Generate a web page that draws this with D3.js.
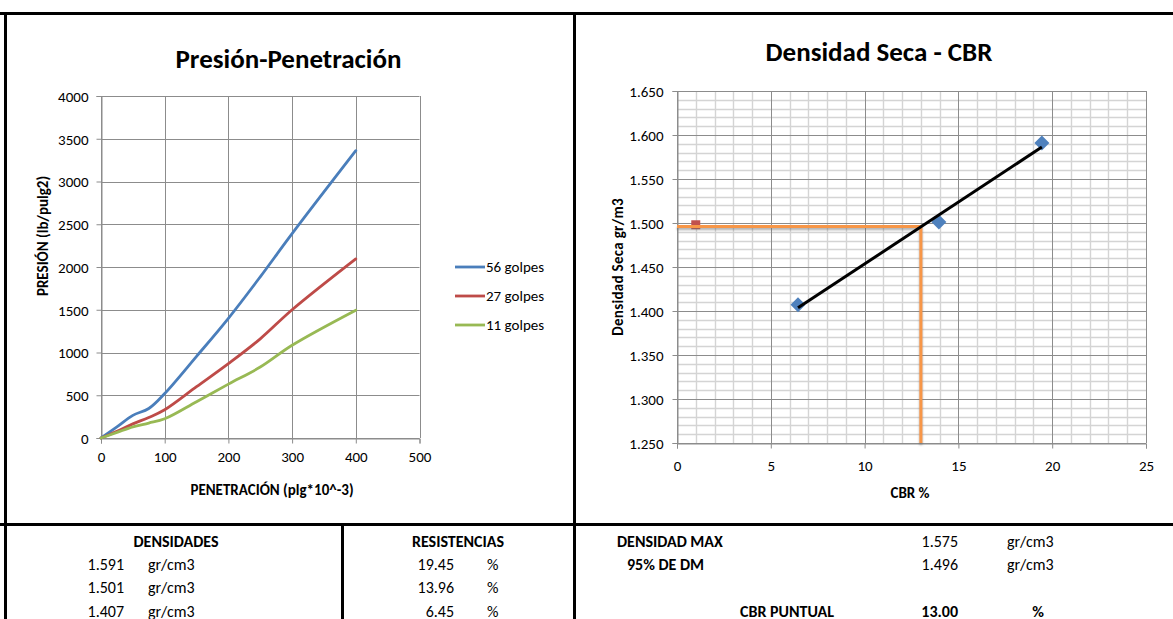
<!DOCTYPE html>
<html>
<head>
<meta charset="utf-8">
<script src="https://cdn.jsdelivr.net/npm/d3@7"></script>
<style>
  html, body { margin: 0; padding: 0; background: #fff; }
  svg { display: block; }
  text { font-family: Carlito, Lato, "Open Sans", sans-serif; fill: #000; }
</style>
</head>
<body>
<svg id="hoja" width="1173" height="619"></svg>
<script>
// ---- Ensayo CBR: curvas presión-penetración ----
const penetracion = [0, 25, 50, 75, 100, 150, 200, 250, 300, 400];
const golpes56 = [0, 130, 265, 345, 520, 955, 1400, 1885, 2390, 3360];
const golpes27 = [0, 80, 165, 240, 330, 600, 870, 1160, 1500, 2095];
const golpes11 = [0, 65, 130, 175, 225, 425, 630, 830, 1085, 1495];
const nombresSeries = ["56 golpes", "27 golpes", "11 golpes"];
const coloresSeries = ["#4A7EBB", "#BE4B48", "#98B954"];
const ticksPresion = [0, 500, 1000, 1500, 2000, 2500, 3000, 3500, 4000];
const ticksPenetracion = [0, 100, 200, 300, 400, 500];

// ---- Densidad seca vs CBR ----
const cbrValores = [19.45, 13.96, 6.45];
const densidades = [1.591, 1.501, 1.407];
const densidadMax = 1.575;
const densidad95 = 1.496;
const cbrPuntual = 13.00;
const puntoReferencia = [1, 1.498];
const ticksCBR = [0, 5, 10, 15, 20, 25];
const ticksDensidad = [1.25, 1.30, 1.35, 1.40, 1.45, 1.50, 1.55, 1.60, 1.65];

const svg = d3.select("#hoja");
const FUENTE = "Carlito, Lato, sans-serif";

// ---------- marco de la hoja ----------
const marco = svg.append("g").attr("stroke", "#000").attr("stroke-width", 3);
marco.append("line").attr("x1", 0).attr("x2", 1173).attr("y1", 13.5).attr("y2", 13.5);
marco.append("line").attr("x1", 5.5).attr("x2", 5.5).attr("y1", 12).attr("y2", 619);
marco.append("line").attr("x1", 574.5).attr("x2", 574.5).attr("y1", 12).attr("y2", 619);
marco.append("line").attr("x1", 0).attr("x2", 1173).attr("y1", 524.5).attr("y2", 524.5);
marco.append("line").attr("x1", 342.5).attr("x2", 342.5).attr("y1", 524).attr("y2", 619);

// ---------- gráfico izquierdo: Presión-Penetración ----------
const xL = d3.scaleLinear().domain([0, 500]).range([101, 419.5]);
const yL = d3.scaleLinear().domain([0, 4000]).range([438, 96]);
const gL = svg.append("g");

gL.append("text").attr("x", 288.5).attr("y", 68).attr("text-anchor", "middle")
  .attr("font-size", 27).attr("font-weight", "bold").text("Presión-Penetración");

// cuadrícula
gL.append("g").selectAll("line").data(ticksPresion).join("line")
  .attr("x1", xL(0)).attr("x2", xL(500))
  .attr("y1", d => Math.round(yL(d)) + 0.5).attr("y2", d => Math.round(yL(d)) + 0.5)
  .attr("stroke", "#8c8c8c").attr("stroke-width", 1);
gL.append("g").selectAll("line").data(ticksPenetracion).join("line")
  .attr("x1", d => Math.round(xL(d)) + 0.5).attr("x2", d => Math.round(xL(d)) + 0.5)
  .attr("y1", yL(4000)).attr("y2", yL(0))
  .attr("stroke", "#8c8c8c").attr("stroke-width", 1);

// ejes
const ejeYL = d3.axisLeft(yL).tickValues(ticksPresion).tickSize(5).tickPadding(8).tickFormat(d3.format("d"));
const ejeXL = d3.axisBottom(xL).tickValues(ticksPenetracion).tickSize(5).tickPadding(8).tickFormat(d3.format("d"));
const axYL = gL.append("g").attr("transform", `translate(${Math.round(xL(0)) + 0.5},0)`).call(ejeYL);
const axXL = gL.append("g").attr("transform", `translate(0,${Math.round(yL(0)) + 0.5})`).call(ejeXL);
[axYL, axXL].forEach(a => {
  a.select(".domain").attr("stroke", "#8c8c8c");
  a.selectAll(".tick line").attr("stroke", "#8c8c8c");
  a.selectAll("text").attr("font-size", 15).attr("font-family", FUENTE).attr("fill", "#000");
});
axYL.selectAll(".tick text").attr("dy", "0.35em");

gL.append("text").attr("transform", "translate(48,236) rotate(-90)").attr("text-anchor", "middle")
  .attr("font-size", 15).attr("font-weight", "bold").text("PRESIÓN (lb/pulg2)");
gL.append("text").attr("x", 272).attr("y", 495).attr("text-anchor", "middle")
  .attr("font-size", 15).attr("font-weight", "bold").text("PENETRACIÓN (plg*10^-3)");

const series = [golpes56, golpes27, golpes11];
const linea = d3.line().x(d => xL(d[0])).y(d => yL(d[1])).curve(d3.curveCatmullRom.alpha(0.5));
series.forEach((vals, i) => {
  gL.append("path").datum(penetracion.map((p, k) => [p, vals[k]]))
    .attr("d", linea).attr("fill", "none").attr("stroke", coloresSeries[i])
    .attr("stroke-width", 2.8).attr("stroke-linejoin", "round").attr("stroke-linecap", "round");
});

// leyenda
const ley = gL.append("g").selectAll("g").data(nombresSeries).join("g")
  .attr("transform", (d, i) => `translate(455,${267 + i * 29})`);
ley.append("line").attr("x1", 0).attr("x2", 30).attr("y1", 0).attr("y2", 0)
  .attr("stroke", (d, i) => coloresSeries[i]).attr("stroke-width", 2.8);
ley.append("text").attr("x", 31).attr("y", 5).attr("font-size", 15).text(d => d);

// ---------- gráfico derecho: Densidad Seca - CBR ----------
const xR = d3.scaleLinear().domain([0, 25]).range([677, 1146]);
const yR = d3.scaleLinear().domain([1.25, 1.65]).range([443, 91]);
const gR = svg.append("g");

gR.append("text").attr("x", 879).attr("y", 61).attr("text-anchor", "middle")
  .attr("font-size", 27).attr("font-weight", "bold").text("Densidad Seca - CBR");

// cuadrícula secundaria
const menoresX = d3.range(0, 26, 1).filter(v => v % 5 !== 0);
const menoresY = d3.range(0, 41).map(k => 1.25 + k * 0.01).filter((v, k) => k % 5 !== 0);
gR.append("g").selectAll("line").data(menoresX).join("line")
  .attr("x1", d => Math.round(xR(d)) + 0.5).attr("x2", d => Math.round(xR(d)) + 0.5)
  .attr("y1", yR(1.65)).attr("y2", yR(1.25)).attr("stroke", "#d4d4d4").attr("stroke-width", 1.4);
gR.append("g").selectAll("line").data(menoresY).join("line")
  .attr("x1", xR(0)).attr("x2", xR(25))
  .attr("y1", d => Math.round(yR(d)) + 0.5).attr("y2", d => Math.round(yR(d)) + 0.5)
  .attr("stroke", "#d4d4d4").attr("stroke-width", 1.4);
// cuadrícula principal
gR.append("g").selectAll("line").data(ticksCBR).join("line")
  .attr("x1", d => Math.round(xR(d)) + 0.5).attr("x2", d => Math.round(xR(d)) + 0.5)
  .attr("y1", yR(1.65)).attr("y2", yR(1.25)).attr("stroke", "#8c8c8c").attr("stroke-width", 1);
gR.append("g").selectAll("line").data(ticksDensidad).join("line")
  .attr("x1", xR(0)).attr("x2", xR(25))
  .attr("y1", d => Math.round(yR(d)) + 0.5).attr("y2", d => Math.round(yR(d)) + 0.5)
  .attr("stroke", "#8c8c8c").attr("stroke-width", 1);

const ejeYR = d3.axisLeft(yR).tickValues(ticksDensidad).tickSize(5).tickPadding(9).tickFormat(d3.format(".3f"));
const ejeXR = d3.axisBottom(xR).tickValues(ticksCBR).tickSize(5).tickPadding(12).tickFormat(d3.format("d"));
const axYR = gR.append("g").attr("transform", `translate(${Math.round(xR(0)) + 0.5},0)`).call(ejeYR);
const axXR = gR.append("g").attr("transform", `translate(0,${Math.round(yR(1.25)) + 0.5})`).call(ejeXR);
[axYR, axXR].forEach(a => {
  a.select(".domain").attr("stroke", "#8c8c8c");
  a.selectAll(".tick line").attr("stroke", "#8c8c8c");
  a.selectAll("text").attr("font-size", 15).attr("font-family", FUENTE).attr("fill", "#000");
});
axYR.selectAll(".tick text").attr("dy", "0.35em");

gR.append("text").attr("transform", "translate(623,267) rotate(-90)").attr("text-anchor", "middle")
  .attr("font-size", 15).attr("font-weight", "bold").attr("letter-spacing", 0.3).text("Densidad Seca gr/m3");
gR.append("text").attr("x", 910).attr("y", 498).attr("text-anchor", "middle")
  .attr("font-size", 15).attr("font-weight", "bold").text("CBR %");

// línea de tendencia (mínimos cuadrados)
const mx = d3.mean(cbrValores), my = d3.mean(densidades);
const pendiente = d3.sum(cbrValores, (x, i) => (x - mx) * (densidades[i] - my)) /
                  d3.sum(cbrValores, x => (x - mx) * (x - mx));
const ordenada = my - pendiente * mx;
const xMin = d3.min(cbrValores), xMax = d3.max(cbrValores);

// sombra suave de la guía naranja
const defs = svg.append("defs");
const f = defs.append("filter").attr("id", "sombra").attr("x", "-5%").attr("y", "-50%").attr("width", "110%").attr("height", "200%");
f.append("feDropShadow").attr("dx", 0).attr("dy", 2).attr("stdDeviation", 1)
  .attr("flood-color", "#666").attr("flood-opacity", 0.55);

// marcadores de datos (debajo de la tendencia)
const diamante = (cx, cy, r) => `M${cx},${cy - r}L${cx + r},${cy}L${cx},${cy + r}L${cx - r},${cy}Z`;
gR.append("g").selectAll("path").data(cbrValores.map((c, i) => [c, densidades[i]])).join("path")
  .attr("d", d => diamante(xR(d[0]), yR(d[1]), 7.5)).attr("fill", "#4F81BD");

gR.append("rect")
  .attr("x", xR(puntoReferencia[0]) - 4.5).attr("y", yR(puntoReferencia[1]) - 4.5)
  .attr("width", 9).attr("height", 9).attr("fill", "#C0504D");

gR.append("path")
  .datum([[0, densidad95], [cbrPuntual, densidad95], [cbrPuntual, 1.25]])
  .attr("d", d3.line().x(d => xR(d[0])).y(d => yR(d[1])))
  .attr("fill", "none").attr("stroke", "#F79646").attr("stroke-width", 3)
  .attr("filter", "url(#sombra)");

gR.append("line")
  .attr("x1", xR(xMin)).attr("y1", yR(ordenada + pendiente * xMin))
  .attr("x2", xR(xMax)).attr("y2", yR(ordenada + pendiente * xMax))
  .attr("stroke", "#000").attr("stroke-width", 3);

// ---------- tabla de resultados ----------
const tabla = svg.append("g").attr("font-size", 16);
const filaY = [547, 570, 593, 617];
const txt = (x, y, s, anchor, bold) => tabla.append("text").attr("x", x).attr("y", y)
  .attr("text-anchor", anchor).attr("font-weight", bold ? "bold" : "normal").text(s);

txt(176, filaY[0], "DENSIDADES", "middle", true);
txt(458, filaY[0], "RESISTENCIAS", "middle", true);
densidades.forEach((d, i) => {
  txt(124, filaY[i + 1], d3.format(".3f")(d), "end", false);
  txt(148, filaY[i + 1], "gr/cm3", "start", false);
});
cbrValores.forEach((c, i) => {
  txt(454, filaY[i + 1], d3.format(".2f")(c), "end", false);
  txt(487, filaY[i + 1], "%", "start", false);
});
txt(617, filaY[0], "DENSIDAD MAX", "start", true);
txt(958, filaY[0], d3.format(".3f")(densidadMax), "end", false);
txt(1007, filaY[0], "gr/cm3", "start", false);
txt(627, filaY[1], "95% DE DM", "start", true);
txt(958, filaY[1], d3.format(".3f")(densidad95), "end", false);
txt(1007, filaY[1], "gr/cm3", "start", false);
txt(787, filaY[3], "CBR PUNTUAL", "middle", true);
txt(958, filaY[3], d3.format(".2f")(cbrPuntual), "end", true);
txt(1038, filaY[3], "%", "middle", true);
</script>
</body>
</html>
